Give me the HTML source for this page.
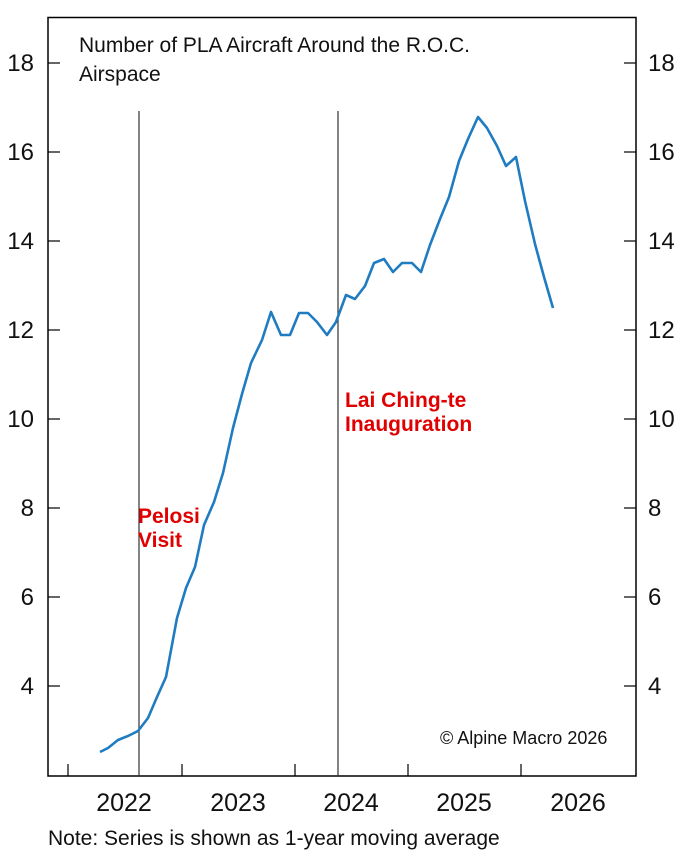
<!DOCTYPE html>
<html><head><style>body{margin:0;background:#fff}</style></head><body>
<svg width="696" height="862" xmlns="http://www.w3.org/2000/svg" font-family="Liberation Sans, Arial, sans-serif">
<rect x="48" y="17.5" width="588" height="758.5" fill="none" stroke="#000" stroke-width="1.5"/>
<g stroke="#000" stroke-width="1.2">
<line x1="48" y1="63" x2="60" y2="63"/><line x1="48" y1="152" x2="60" y2="152"/><line x1="48" y1="241" x2="60" y2="241"/><line x1="48" y1="330" x2="60" y2="330"/><line x1="48" y1="419" x2="60" y2="419"/><line x1="48" y1="508" x2="60" y2="508"/><line x1="48" y1="597" x2="60" y2="597"/><line x1="48" y1="686" x2="60" y2="686"/>
<line x1="624" y1="63" x2="636" y2="63"/><line x1="624" y1="152" x2="636" y2="152"/><line x1="624" y1="241" x2="636" y2="241"/><line x1="624" y1="330" x2="636" y2="330"/><line x1="624" y1="419" x2="636" y2="419"/><line x1="624" y1="508" x2="636" y2="508"/><line x1="624" y1="597" x2="636" y2="597"/><line x1="624" y1="686" x2="636" y2="686"/>
<line x1="68" y1="776" x2="68" y2="764"/><line x1="182" y1="776" x2="182" y2="764"/><line x1="295" y1="776" x2="295" y2="764"/><line x1="408" y1="776" x2="408" y2="764"/><line x1="521" y1="776" x2="521" y2="764"/>
</g>
<g stroke="#333" stroke-width="1.2">
<line x1="139" y1="111" x2="139" y2="776"/><line x1="338" y1="111" x2="338" y2="776"/>
</g>
<g font-size="24" fill="#111">
<text x="34" y="71" text-anchor="end">18</text><text x="34" y="160" text-anchor="end">16</text><text x="34" y="249" text-anchor="end">14</text><text x="34" y="338" text-anchor="end">12</text><text x="34" y="427" text-anchor="end">10</text><text x="34" y="516" text-anchor="end">8</text><text x="34" y="605" text-anchor="end">6</text><text x="34" y="694" text-anchor="end">4</text>
<text x="648" y="71">18</text><text x="648" y="160">16</text><text x="648" y="249">14</text><text x="648" y="338">12</text><text x="648" y="427">10</text><text x="648" y="516">8</text><text x="648" y="605">6</text><text x="648" y="694">4</text>
</g>
<g font-size="25" fill="#111">
<text x="124" y="811" text-anchor="middle">2022</text><text x="238" y="811" text-anchor="middle">2023</text><text x="351" y="811" text-anchor="middle">2024</text><text x="464" y="811" text-anchor="middle">2025</text><text x="578" y="811" text-anchor="middle">2026</text>
</g>
<text x="79" y="52" font-size="21" fill="#111">Number of PLA Aircraft Around the R.O.C.</text>
<text x="79" y="81" font-size="21" fill="#111">Airspace</text>
<g font-size="21" font-weight="bold" fill="#e00000">
<text x="138" y="523">Pelosi</text><text x="138" y="547">Visit</text>
<text x="345" y="407">Lai Ching-te</text><text x="345" y="431">Inauguration</text>
</g>
<text x="440" y="744" font-size="18" fill="#111">© Alpine Macro 2026</text>
<text x="48" y="845" font-size="21" fill="#111">Note: Series is shown as 1-year moving average</text>
<polyline fill="none" stroke="#1f7cc1" stroke-width="2.6" stroke-linejoin="round" points="100,752 108,748 118,740 128,736 138,731 148,718 157,697 166,677 177,618 186,588 195,567 204,525 214,502 223,473 233,428 242,394 251,363 262,340 271,312 281,335 290,335 299,313 308,313 317,322 327,335 336,322 346,295 355,299 365,286 374,263 384,259 393,272 402,263 412,263 421,272 430,245 440,219 449,197 459,161 468,139 478,117 487,128 497,146 506,166 516,157 525,201 535,244 544,277 553,308"/>
</svg>
</body></html>
